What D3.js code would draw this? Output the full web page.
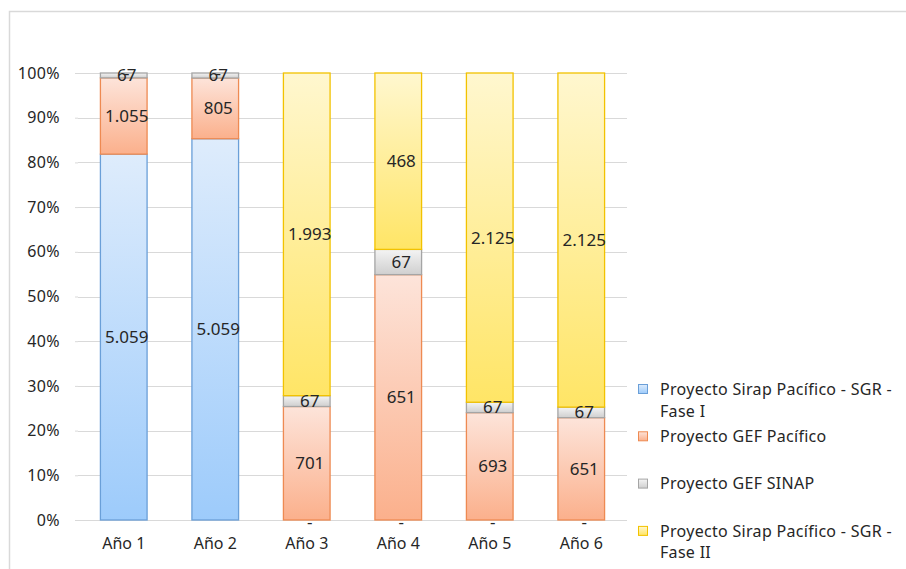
<!DOCTYPE html>
<html>
<head>
<meta charset="utf-8">
<script src="https://cdn.jsdelivr.net/npm/d3@7"></script>
<style>
  body { margin: 0; background: #fff; }
  text { font-family: "Noto Sans", sans-serif; fill: #262626; }
</style>
</head>
<body>
<svg width="906" height="569"></svg>
<script>
// gegevens van de grafiek
const jaren = ["Año 1", "Año 2", "Año 3", "Año 4", "Año 5", "Año 6"];
const reeksen = ["Proyecto Sirap Pacífico - SGR - Fase I", "Proyecto GEF Pacífico", "Proyecto GEF SINAP", "Proyecto Sirap Pacífico - SGR - Fase II"];
const legendaRegels = [["Proyecto Sirap Pacífico - SGR -", "Fase I"], ["Proyecto GEF Pacífico"], ["Proyecto GEF SINAP"], ["Proyecto Sirap Pacífico - SGR -", "Fase II"]];
const sirapFase1 = [5059, 5059, 0, 0, 0, 0];
const gefPacifico = [1055, 805, 701, 651, 693, 651];
const gefSinap = [67, 67, 67, 67, 67, 67];
const sirapFase2 = [0, 0, 1993, 468, 2125, 2125];
const yTicks = [0, 0.1, 0.2, 0.3, 0.4, 0.5, 0.6, 0.7, 0.8, 0.9, 1];

const kleuren = [
  { top: "#deecfc", bottom: "#9dcbfb", stroke: "#6a9fd8" },
  { top: "#fde4da", bottom: "#fbb08c", stroke: "#ee8a52" },
  { top: "#f4f4f4", bottom: "#cfcfcf", stroke: "#a5a5a5" },
  { top: "#fff7cf", bottom: "#ffe566", stroke: "#f2c200" }
];

const data = jaren.map((jaar, i) => ({
  jaar: jaar,
  s0: sirapFase1[i], s1: gefPacifico[i], s2: gefSinap[i], s3: sirapFase2[i]
}));

const locale = d3.formatLocale({ decimal: ",", thousands: ".", grouping: [3], currency: ["", ""] });
const getal = v => v === 0 ? "-" : locale.format(",")(v);

const svg = d3.select("svg");
const width = +svg.attr("width");
const height = +svg.attr("height");

// kader rond de grafiek
svg.append("path")
  .attr("d", `M9.5,${height} V11.5 H${width}`)
  .attr("fill", "none")
  .attr("stroke", "#d9d9d9")
  .attr("stroke-width", 1.5);

const defs = svg.append("defs");
kleuren.forEach((k, i) => {
  const lg = defs.append("linearGradient")
    .attr("id", "grad" + i)
    .attr("x1", 0).attr("y1", 0).attr("x2", 0).attr("y2", 1);
  lg.append("stop").attr("offset", "0%").attr("stop-color", k.top);
  lg.append("stop").attr("offset", "100%").attr("stop-color", k.bottom);
});

const margin = { top: 73, right: 279, bottom: 49, left: 78 };
const innerWidth = width - margin.left - margin.right;
const innerHeight = height - margin.top - margin.bottom;

const xScale = d3.scaleBand()
  .domain(jaren)
  .range([0, innerWidth])
  .paddingInner(0.49)
  .paddingOuter(0.245);

const yScale = d3.scaleLinear()
  .domain([0, 1])
  .range([innerHeight, 0]);

const g = svg.append("g")
  .attr("transform", `translate(${margin.left},${margin.top})`);

// rasterlijnen
g.selectAll(".grid")
  .data(yTicks)
  .enter()
  .append("line")
  .attr("x1", 0)
  .attr("x2", innerWidth)
  .attr("y1", d => Math.round(yScale(d)) + 0.5)
  .attr("y2", d => Math.round(yScale(d)) + 0.5)
  .attr("stroke", "#d9d9d9")
  .attr("stroke-width", 1.2);

const yAxis = d3.axisLeft(yScale)
  .tickValues(yTicks)
  .tickFormat(d3.format(".0%"))
  .tickSize(3)
  .tickPadding(15);
const yG = g.append("g").call(yAxis);
yG.select(".domain").remove();
yG.selectAll("line").attr("stroke", "#d9d9d9");
yG.selectAll("text")
  .style("font-family", "'Noto Sans', sans-serif")
  .style("font-size", "16px")
  .style("letter-spacing", "0.4px")
  .attr("fill", "#262626");

const xAxis = d3.axisBottom(xScale).tickSize(0).tickPadding(18);
const xG = g.append("g")
  .attr("transform", `translate(0,${innerHeight})`)
  .call(xAxis);
xG.select(".domain").remove();
xG.selectAll("text")
  .style("font-family", "'Noto Sans', sans-serif")
  .style("font-size", "16px")
  .attr("fill", "#262626");

const stack = d3.stack()
  .keys(["s0", "s1", "s2", "s3"])
  .offset(d3.stackOffsetExpand);
const gestapeld = stack(data);

const lagen = g.selectAll(".laag")
  .data(gestapeld)
  .enter()
  .append("g")
  .attr("class", "laag");

lagen.selectAll("rect")
  .data((d, i) => d.map(p => ({ p: p, i: i, key: d.key })))
  .enter()
  .filter(d => d.p[1] - d.p[0] > 0)
  .append("rect")
  .attr("x", d => xScale(d.p.data.jaar))
  .attr("y", d => yScale(d.p[1]))
  .attr("width", xScale.bandwidth())
  .attr("height", d => yScale(d.p[0]) - yScale(d.p[1]))
  .attr("fill", d => `url(#grad${d.i})`)
  .attr("stroke", d => kleuren[d.i].stroke)
  .attr("stroke-width", 1.3);

// waardelabels
const labels = [];
gestapeld.forEach(laag => {
  laag.forEach(p => {
    labels.push({ jaar: p.data.jaar, mid: (p[0] + p[1]) / 2, waarde: p.data[laag.key] });
  });
});

g.selectAll(".label")
  .data(labels)
  .enter()
  .append("text")
  .attr("class", "label")
  .attr("x", d => xScale(d.jaar) + xScale.bandwidth() / 2 + 3)
  .attr("y", d => yScale(d.mid) + (d.waarde === 0 && d.mid === 0 ? 2 : 0))
  .attr("dy", "0.35em")
  .attr("text-anchor", "middle")
  .style("font-size", "17px")
  .text(d => getal(d.waarde));

// legenda
const legenda = svg.append("g")
  .attr("transform", "translate(638,389)");

const item = legenda.selectAll(".item")
  .data(reeksen)
  .enter()
  .append("g")
  .attr("transform", (d, i) => `translate(0,${i * 47.3})`);

item.append("rect")
  .attr("x", 0.5)
  .attr("y", -4.5)
  .attr("width", 9)
  .attr("height", 9)
  .attr("fill", (d, i) => `url(#grad${i})`)
  .attr("stroke", (d, i) => kleuren[i].stroke);

item.each(function (d, i) {
  const t = d3.select(this).append("text")
    .attr("x", 22)
    .attr("y", 0)
    .style("font-size", "16px")
    .style("letter-spacing", "0.3px");
  legendaRegels[i].forEach((regel, j) => {
    t.append("tspan")
      .attr("x", 22)
      .attr("dy", j === 0 ? "0.35em" : "22")
      .text(regel);
  });
});
</script>
</body>
</html>
